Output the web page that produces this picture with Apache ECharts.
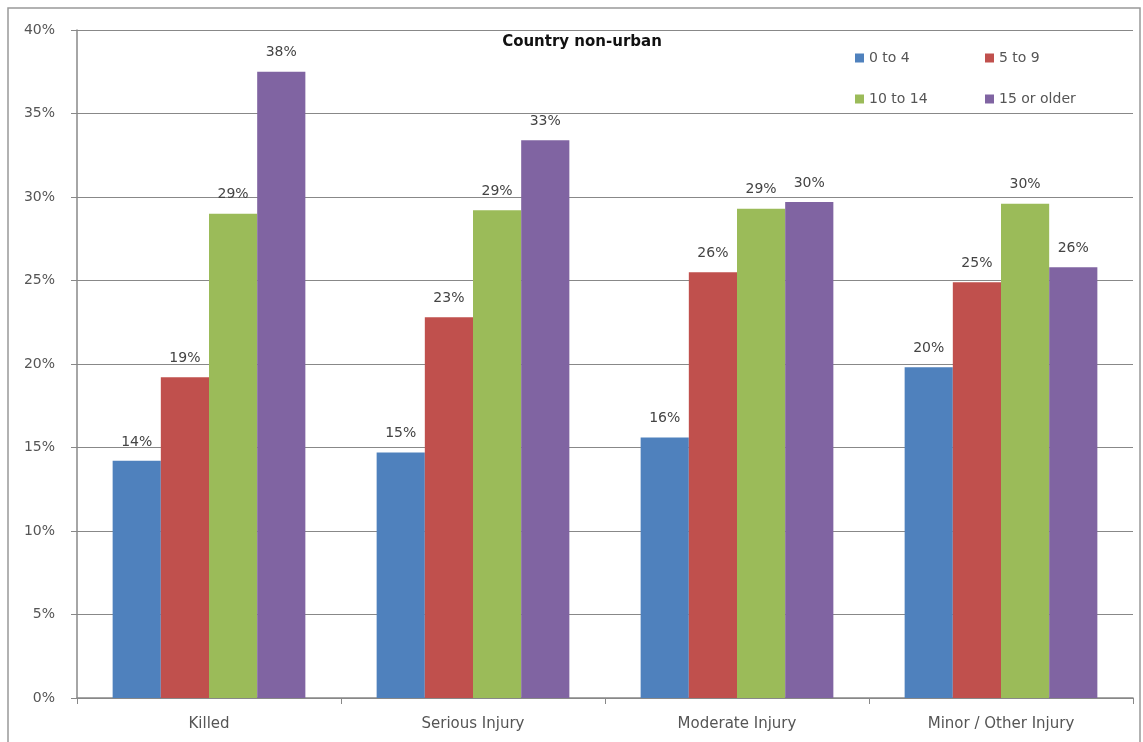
<!DOCTYPE html>
<html lang="en">
<head>
    <meta charset="UTF-8">
    <title>Country non-urban</title>
    <style>
        html, body { margin: 0; padding: 0; background: #fff; }
        #main { width: 1143px; height: 742px; }
    </style>
</head>
<body>
    <div id="main"></div>
    <script src="https://cdn.jsdelivr.net/npm/echarts@6/dist/echarts.min.js"></script>
    <script>
        // categories and series (percent)
        var categories = ['Killed', 'Serious Injury', 'Moderate Injury', 'Minor / Other Injury'];
        var age0to4 = [14.2, 14.7, 15.6, 19.8];
        var age5to9 = [19.2, 22.8, 25.5, 24.9];
        var age10to14 = [29.0, 29.2, 29.3, 29.6];
        var age15plus = [37.5, 33.4, 29.7, 25.8];
        var seriesNames = ['0 to 4', '5 to 9', '10 to 14', '15 or older'];
        var colors = ['#4F81BD', '#C0504D', '#9BBB59', '#8064A2'];

        var font = 'DejaVu Sans';
        var myChart = echarts.init(document.getElementById('main'));

        var dataSets = [age0to4, age5to9, age10to14, age15plus];
        var series = dataSets.map(function (d, i) {
            return {
                name: seriesNames[i],
                type: 'bar',
                data: d,
                barGap: '0%',
                barCategoryGap: '27%',
                itemStyle: { color: colors[i] },
                label: {
                    show: true,
                    position: 'top',
                    distance: 12,
                    color: '#444',
                    fontFamily: font,
                    fontSize: 14,
                    formatter: function (p) { return Math.round(p.value) + '%'; }
                }
            };
        });

        // one legend per item so they sit in a 2x2 block
        var legendPos = [[850, 46], [980, 46], [850, 87], [980, 87]];
        var legends = seriesNames.map(function (n, i) {
            return {
                data: [n],
                left: legendPos[i][0],
                top: legendPos[i][1],
                icon: 'rect',
                itemWidth: 9,
                itemHeight: 9,
                itemGap: 5,
                textStyle: { fontFamily: font, fontSize: 14, color: '#555' }
            };
        });

        var option = {
            animation: false,
            color: colors,
            title: {
                text: 'Country non-urban',
                left: 577,
                textAlign: 'center',
                top: 30,
                textStyle: { fontFamily: font, fontSize: 15, fontWeight: 'bold', color: '#111' }
            },
            legend: legends,
            graphic: [{
                type: 'rect',
                shape: { x: 8, y: 8, width: 1132, height: 740 },
                style: { fill: 'none', stroke: '#999', lineWidth: 1.5 },
                silent: true
            }],
            grid: { left: 77, right: 10, top: 30, bottom: 44 },
            xAxis: {
                type: 'category',
                data: categories,
                axisLine: { lineStyle: { color: '#888', width: 1.5 } },
                axisTick: { show: true, length: 6, lineStyle: { color: '#888' } },
                axisLabel: { fontFamily: font, fontSize: 15, color: '#555', margin: 19 }
            },
            yAxis: {
                type: 'value',
                min: 0,
                max: 40,
                interval: 5,
                axisLine: { show: true, lineStyle: { color: '#888', width: 1.5 } },
                axisTick: { show: true, length: 6, lineStyle: { color: '#888' } },
                axisLabel: { fontFamily: font, fontSize: 14, color: '#555', formatter: '{value}%', margin: 22 },
                splitLine: { lineStyle: { color: '#888', width: 1.2 } }
            },
            series: series
        };
        myChart.setOption(option);
    </script>
</body>
</html>
